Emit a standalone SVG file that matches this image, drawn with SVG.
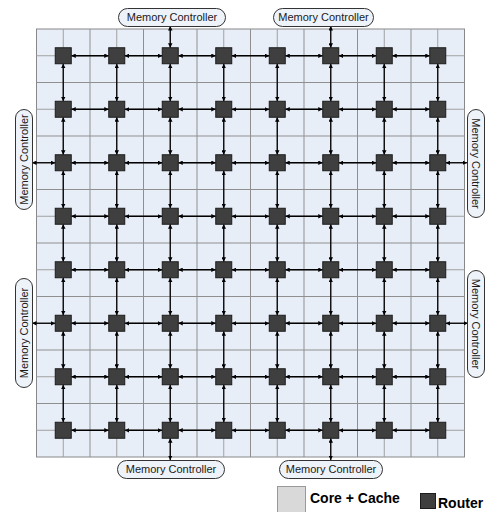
<svg xmlns="http://www.w3.org/2000/svg" width="490" height="512" viewBox="0 0 490 512">
<style>
.grid{fill:#e8eef8;stroke:#888;stroke-width:1}
.gl{fill:none;stroke:#8f8f8f;stroke-width:1}
.gm{fill:none;stroke:#a0a0a0;stroke-width:1}
.router rect{fill:#3f3f3f;stroke:#1c1c1c;stroke-width:1}
.mc rect{fill:#eef2f9;stroke:#333;stroke-width:1}
.mc text{font-family:"Liberation Sans",Arial,sans-serif;font-size:11px;fill:#1a1a1a;text-anchor:middle}
.c line{stroke:#000;stroke-width:1.3;marker-start:url(#a);marker-end:url(#a)}
.lg{font-family:"Liberation Sans",Arial,sans-serif;font-size:14px;font-weight:bold;fill:#000}
</style>
<defs>
<marker id="a" viewBox="0 0 6 6" refX="6" refY="3" markerWidth="4.5" markerHeight="4.5" markerUnits="userSpaceOnUse" orient="auto-start-reverse"><path d="M0,0 L6,3 L0,6 z" fill="#000"/></marker>
</defs>
<g id="chip">
<rect class="grid" x="36.5" y="29" width="428" height="428"/>
<path class="gm" d="M63.25,29V457M116.75,29V457M170.25,29V457M223.75,29V457M277.25,29V457M330.75,29V457M384.25,29V457M437.75,29V457M36.5,55.75H464.5M36.5,109.25H464.5M36.5,162.75H464.5M36.5,216.25H464.5M36.5,269.75H464.5M36.5,323.25H464.5M36.5,376.75H464.5M36.5,430.25H464.5"/>
<path class="gl" d="M90,29V457M143.5,29V457M197,29V457M250.5,29V457M304,29V457M357.5,29V457M411,29V457M36.5,82.5H464.5M36.5,136H464.5M36.5,189.5H464.5M36.5,243H464.5M36.5,296.5H464.5M36.5,350H464.5M36.5,403.5H464.5"/>
</g>
<g id="connectors" class="c">
<line x1="71.25" y1="55.75" x2="108.75" y2="55.75"/><line x1="124.75" y1="55.75" x2="162.25" y2="55.75"/><line x1="178.25" y1="55.75" x2="215.75" y2="55.75"/><line x1="231.75" y1="55.75" x2="269.25" y2="55.75"/><line x1="285.25" y1="55.75" x2="322.75" y2="55.75"/><line x1="338.75" y1="55.75" x2="376.25" y2="55.75"/><line x1="392.25" y1="55.75" x2="429.75" y2="55.75"/>
<line x1="71.25" y1="109.25" x2="108.75" y2="109.25"/><line x1="124.75" y1="109.25" x2="162.25" y2="109.25"/><line x1="178.25" y1="109.25" x2="215.75" y2="109.25"/><line x1="231.75" y1="109.25" x2="269.25" y2="109.25"/><line x1="285.25" y1="109.25" x2="322.75" y2="109.25"/><line x1="338.75" y1="109.25" x2="376.25" y2="109.25"/><line x1="392.25" y1="109.25" x2="429.75" y2="109.25"/>
<line x1="71.25" y1="162.75" x2="108.75" y2="162.75"/><line x1="124.75" y1="162.75" x2="162.25" y2="162.75"/><line x1="178.25" y1="162.75" x2="215.75" y2="162.75"/><line x1="231.75" y1="162.75" x2="269.25" y2="162.75"/><line x1="285.25" y1="162.75" x2="322.75" y2="162.75"/><line x1="338.75" y1="162.75" x2="376.25" y2="162.75"/><line x1="392.25" y1="162.75" x2="429.75" y2="162.75"/>
<line x1="71.25" y1="216.25" x2="108.75" y2="216.25"/><line x1="124.75" y1="216.25" x2="162.25" y2="216.25"/><line x1="178.25" y1="216.25" x2="215.75" y2="216.25"/><line x1="231.75" y1="216.25" x2="269.25" y2="216.25"/><line x1="285.25" y1="216.25" x2="322.75" y2="216.25"/><line x1="338.75" y1="216.25" x2="376.25" y2="216.25"/><line x1="392.25" y1="216.25" x2="429.75" y2="216.25"/>
<line x1="71.25" y1="269.75" x2="108.75" y2="269.75"/><line x1="124.75" y1="269.75" x2="162.25" y2="269.75"/><line x1="178.25" y1="269.75" x2="215.75" y2="269.75"/><line x1="231.75" y1="269.75" x2="269.25" y2="269.75"/><line x1="285.25" y1="269.75" x2="322.75" y2="269.75"/><line x1="338.75" y1="269.75" x2="376.25" y2="269.75"/><line x1="392.25" y1="269.75" x2="429.75" y2="269.75"/>
<line x1="71.25" y1="323.25" x2="108.75" y2="323.25"/><line x1="124.75" y1="323.25" x2="162.25" y2="323.25"/><line x1="178.25" y1="323.25" x2="215.75" y2="323.25"/><line x1="231.75" y1="323.25" x2="269.25" y2="323.25"/><line x1="285.25" y1="323.25" x2="322.75" y2="323.25"/><line x1="338.75" y1="323.25" x2="376.25" y2="323.25"/><line x1="392.25" y1="323.25" x2="429.75" y2="323.25"/>
<line x1="71.25" y1="376.75" x2="108.75" y2="376.75"/><line x1="124.75" y1="376.75" x2="162.25" y2="376.75"/><line x1="178.25" y1="376.75" x2="215.75" y2="376.75"/><line x1="231.75" y1="376.75" x2="269.25" y2="376.75"/><line x1="285.25" y1="376.75" x2="322.75" y2="376.75"/><line x1="338.75" y1="376.75" x2="376.25" y2="376.75"/><line x1="392.25" y1="376.75" x2="429.75" y2="376.75"/>
<line x1="71.25" y1="430.25" x2="108.75" y2="430.25"/><line x1="124.75" y1="430.25" x2="162.25" y2="430.25"/><line x1="178.25" y1="430.25" x2="215.75" y2="430.25"/><line x1="231.75" y1="430.25" x2="269.25" y2="430.25"/><line x1="285.25" y1="430.25" x2="322.75" y2="430.25"/><line x1="338.75" y1="430.25" x2="376.25" y2="430.25"/><line x1="392.25" y1="430.25" x2="429.75" y2="430.25"/>
<line x1="63.25" y1="63.75" x2="63.25" y2="101.25"/><line x1="63.25" y1="117.25" x2="63.25" y2="154.75"/><line x1="63.25" y1="170.75" x2="63.25" y2="208.25"/><line x1="63.25" y1="224.25" x2="63.25" y2="261.75"/><line x1="63.25" y1="277.75" x2="63.25" y2="315.25"/><line x1="63.25" y1="331.25" x2="63.25" y2="368.75"/><line x1="63.25" y1="384.75" x2="63.25" y2="422.25"/>
<line x1="116.75" y1="63.75" x2="116.75" y2="101.25"/><line x1="116.75" y1="117.25" x2="116.75" y2="154.75"/><line x1="116.75" y1="170.75" x2="116.75" y2="208.25"/><line x1="116.75" y1="224.25" x2="116.75" y2="261.75"/><line x1="116.75" y1="277.75" x2="116.75" y2="315.25"/><line x1="116.75" y1="331.25" x2="116.75" y2="368.75"/><line x1="116.75" y1="384.75" x2="116.75" y2="422.25"/>
<line x1="170.25" y1="63.75" x2="170.25" y2="101.25"/><line x1="170.25" y1="117.25" x2="170.25" y2="154.75"/><line x1="170.25" y1="170.75" x2="170.25" y2="208.25"/><line x1="170.25" y1="224.25" x2="170.25" y2="261.75"/><line x1="170.25" y1="277.75" x2="170.25" y2="315.25"/><line x1="170.25" y1="331.25" x2="170.25" y2="368.75"/><line x1="170.25" y1="384.75" x2="170.25" y2="422.25"/>
<line x1="223.75" y1="63.75" x2="223.75" y2="101.25"/><line x1="223.75" y1="117.25" x2="223.75" y2="154.75"/><line x1="223.75" y1="170.75" x2="223.75" y2="208.25"/><line x1="223.75" y1="224.25" x2="223.75" y2="261.75"/><line x1="223.75" y1="277.75" x2="223.75" y2="315.25"/><line x1="223.75" y1="331.25" x2="223.75" y2="368.75"/><line x1="223.75" y1="384.75" x2="223.75" y2="422.25"/>
<line x1="277.25" y1="63.75" x2="277.25" y2="101.25"/><line x1="277.25" y1="117.25" x2="277.25" y2="154.75"/><line x1="277.25" y1="170.75" x2="277.25" y2="208.25"/><line x1="277.25" y1="224.25" x2="277.25" y2="261.75"/><line x1="277.25" y1="277.75" x2="277.25" y2="315.25"/><line x1="277.25" y1="331.25" x2="277.25" y2="368.75"/><line x1="277.25" y1="384.75" x2="277.25" y2="422.25"/>
<line x1="330.75" y1="63.75" x2="330.75" y2="101.25"/><line x1="330.75" y1="117.25" x2="330.75" y2="154.75"/><line x1="330.75" y1="170.75" x2="330.75" y2="208.25"/><line x1="330.75" y1="224.25" x2="330.75" y2="261.75"/><line x1="330.75" y1="277.75" x2="330.75" y2="315.25"/><line x1="330.75" y1="331.25" x2="330.75" y2="368.75"/><line x1="330.75" y1="384.75" x2="330.75" y2="422.25"/>
<line x1="384.25" y1="63.75" x2="384.25" y2="101.25"/><line x1="384.25" y1="117.25" x2="384.25" y2="154.75"/><line x1="384.25" y1="170.75" x2="384.25" y2="208.25"/><line x1="384.25" y1="224.25" x2="384.25" y2="261.75"/><line x1="384.25" y1="277.75" x2="384.25" y2="315.25"/><line x1="384.25" y1="331.25" x2="384.25" y2="368.75"/><line x1="384.25" y1="384.75" x2="384.25" y2="422.25"/>
<line x1="437.75" y1="63.75" x2="437.75" y2="101.25"/><line x1="437.75" y1="117.25" x2="437.75" y2="154.75"/><line x1="437.75" y1="170.75" x2="437.75" y2="208.25"/><line x1="437.75" y1="224.25" x2="437.75" y2="261.75"/><line x1="437.75" y1="277.75" x2="437.75" y2="315.25"/><line x1="437.75" y1="331.25" x2="437.75" y2="368.75"/><line x1="437.75" y1="384.75" x2="437.75" y2="422.25"/>
<line x1="170.25" y1="26" x2="170.25" y2="47.75"/>
<line x1="330.75" y1="26" x2="330.75" y2="47.75"/>
<line x1="170.25" y1="460" x2="170.25" y2="438.25"/>
<line x1="330.75" y1="460" x2="330.75" y2="438.25"/>
<line x1="32" y1="162.75" x2="55.25" y2="162.75"/>
<line x1="32" y1="323.25" x2="55.25" y2="323.25"/>
<line x1="467" y1="162.75" x2="445.75" y2="162.75"/>
<line x1="468" y1="323.25" x2="445.75" y2="323.25"/>
</g>
<g id="routers" class="router">
<g id="r00"><rect x="55.25" y="47.75" width="16" height="16"/></g><g id="r10"><rect x="108.75" y="47.75" width="16" height="16"/></g><g id="r20"><rect x="162.25" y="47.75" width="16" height="16"/></g><g id="r30"><rect x="215.75" y="47.75" width="16" height="16"/></g><g id="r40"><rect x="269.25" y="47.75" width="16" height="16"/></g><g id="r50"><rect x="322.75" y="47.75" width="16" height="16"/></g><g id="r60"><rect x="376.25" y="47.75" width="16" height="16"/></g><g id="r70"><rect x="429.75" y="47.75" width="16" height="16"/></g>
<g id="r01"><rect x="55.25" y="101.25" width="16" height="16"/></g><g id="r11"><rect x="108.75" y="101.25" width="16" height="16"/></g><g id="r21"><rect x="162.25" y="101.25" width="16" height="16"/></g><g id="r31"><rect x="215.75" y="101.25" width="16" height="16"/></g><g id="r41"><rect x="269.25" y="101.25" width="16" height="16"/></g><g id="r51"><rect x="322.75" y="101.25" width="16" height="16"/></g><g id="r61"><rect x="376.25" y="101.25" width="16" height="16"/></g><g id="r71"><rect x="429.75" y="101.25" width="16" height="16"/></g>
<g id="r02"><rect x="55.25" y="154.75" width="16" height="16"/></g><g id="r12"><rect x="108.75" y="154.75" width="16" height="16"/></g><g id="r22"><rect x="162.25" y="154.75" width="16" height="16"/></g><g id="r32"><rect x="215.75" y="154.75" width="16" height="16"/></g><g id="r42"><rect x="269.25" y="154.75" width="16" height="16"/></g><g id="r52"><rect x="322.75" y="154.75" width="16" height="16"/></g><g id="r62"><rect x="376.25" y="154.75" width="16" height="16"/></g><g id="r72"><rect x="429.75" y="154.75" width="16" height="16"/></g>
<g id="r03"><rect x="55.25" y="208.25" width="16" height="16"/></g><g id="r13"><rect x="108.75" y="208.25" width="16" height="16"/></g><g id="r23"><rect x="162.25" y="208.25" width="16" height="16"/></g><g id="r33"><rect x="215.75" y="208.25" width="16" height="16"/></g><g id="r43"><rect x="269.25" y="208.25" width="16" height="16"/></g><g id="r53"><rect x="322.75" y="208.25" width="16" height="16"/></g><g id="r63"><rect x="376.25" y="208.25" width="16" height="16"/></g><g id="r73"><rect x="429.75" y="208.25" width="16" height="16"/></g>
<g id="r04"><rect x="55.25" y="261.75" width="16" height="16"/></g><g id="r14"><rect x="108.75" y="261.75" width="16" height="16"/></g><g id="r24"><rect x="162.25" y="261.75" width="16" height="16"/></g><g id="r34"><rect x="215.75" y="261.75" width="16" height="16"/></g><g id="r44"><rect x="269.25" y="261.75" width="16" height="16"/></g><g id="r54"><rect x="322.75" y="261.75" width="16" height="16"/></g><g id="r64"><rect x="376.25" y="261.75" width="16" height="16"/></g><g id="r74"><rect x="429.75" y="261.75" width="16" height="16"/></g>
<g id="r05"><rect x="55.25" y="315.25" width="16" height="16"/></g><g id="r15"><rect x="108.75" y="315.25" width="16" height="16"/></g><g id="r25"><rect x="162.25" y="315.25" width="16" height="16"/></g><g id="r35"><rect x="215.75" y="315.25" width="16" height="16"/></g><g id="r45"><rect x="269.25" y="315.25" width="16" height="16"/></g><g id="r55"><rect x="322.75" y="315.25" width="16" height="16"/></g><g id="r65"><rect x="376.25" y="315.25" width="16" height="16"/></g><g id="r75"><rect x="429.75" y="315.25" width="16" height="16"/></g>
<g id="r06"><rect x="55.25" y="368.75" width="16" height="16"/></g><g id="r16"><rect x="108.75" y="368.75" width="16" height="16"/></g><g id="r26"><rect x="162.25" y="368.75" width="16" height="16"/></g><g id="r36"><rect x="215.75" y="368.75" width="16" height="16"/></g><g id="r46"><rect x="269.25" y="368.75" width="16" height="16"/></g><g id="r56"><rect x="322.75" y="368.75" width="16" height="16"/></g><g id="r66"><rect x="376.25" y="368.75" width="16" height="16"/></g><g id="r76"><rect x="429.75" y="368.75" width="16" height="16"/></g>
<g id="r07"><rect x="55.25" y="422.25" width="16" height="16"/></g><g id="r17"><rect x="108.75" y="422.25" width="16" height="16"/></g><g id="r27"><rect x="162.25" y="422.25" width="16" height="16"/></g><g id="r37"><rect x="215.75" y="422.25" width="16" height="16"/></g><g id="r47"><rect x="269.25" y="422.25" width="16" height="16"/></g><g id="r57"><rect x="322.75" y="422.25" width="16" height="16"/></g><g id="r67"><rect x="376.25" y="422.25" width="16" height="16"/></g><g id="r77"><rect x="429.75" y="422.25" width="16" height="16"/></g>
</g>
<g id="mc-top-1" class="mc"><rect x="118.5" y="8.5" width="107" height="18" rx="9"/><text x="172" y="21.2">Memory Controller</text></g>
<g id="mc-top-2" class="mc"><rect x="273.5" y="8.5" width="100" height="18" rx="9"/><text x="323.5" y="21.2">Memory Controller</text></g>
<g id="mc-bottom-1" class="mc"><rect x="117.5" y="460.5" width="107" height="18" rx="9"/><text x="171" y="473.2">Memory Controller</text></g>
<g id="mc-bottom-2" class="mc"><rect x="279.5" y="460.5" width="103" height="18" rx="9"/><text x="331" y="473.2">Memory Controller</text></g>
<g id="mc-left-1" class="mc"><rect x="15.5" y="109.5" width="17" height="100" rx="8.5"/><text transform="translate(24,159.5) rotate(-90)" y="4">Memory Controller</text></g>
<g id="mc-left-2" class="mc"><rect x="15.5" y="278.5" width="17" height="109" rx="8.5"/><text transform="translate(24,333) rotate(-90)" y="4">Memory Controller</text></g>
<g id="mc-right-1" class="mc"><rect x="467.5" y="109.5" width="17" height="108" rx="8.5"/><text transform="translate(476,163.5) rotate(90)" y="4">Memory Controller</text></g>
<g id="mc-right-2" class="mc"><rect x="467.5" y="270.5" width="17" height="107" rx="8.5"/><text transform="translate(476,324) rotate(90)" y="4">Memory Controller</text></g>
<g id="legend">
<rect x="277.5" y="486.5" width="28" height="30" fill="#d9d9d9" stroke="#999" stroke-width="1"/>
<text class="lg" x="310" y="503">Core + Cache</text>
<rect x="420.5" y="493.5" width="15" height="15" fill="#3f3f3f" stroke="#1c1c1c" stroke-width="1"/>
<text class="lg" x="438" y="508">Router</text>
</g>
</svg>
